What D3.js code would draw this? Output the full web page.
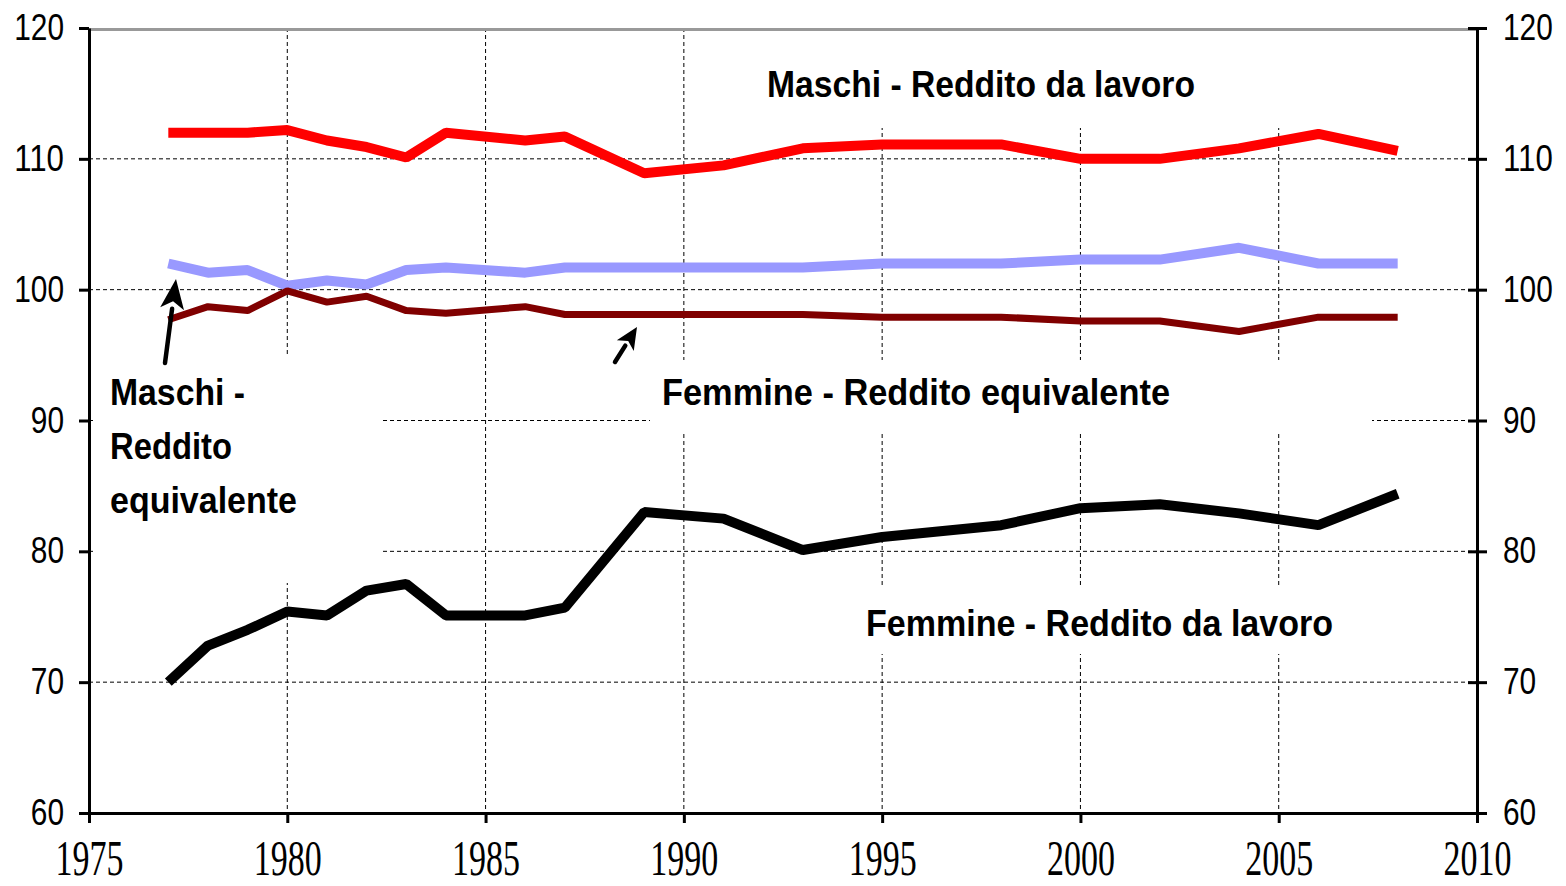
<!DOCTYPE html>
<html>
<head>
<meta charset="utf-8">
<script src="https://cdn.jsdelivr.net/npm/d3@7"></script>
<style>
  html, body { margin: 0; padding: 0; background: #fff; }
  svg { display: block; }
</style>
</head>
<body>
<svg id="chart" width="1566" height="886"></svg>
<script>
// ---------- data ----------

const years = [1977, 1978, 1979, 1980, 1981, 1982, 1983, 1984, 1986, 1987,
  1989, 1991, 1993, 1995, 1998, 2000, 2002, 2004, 2006, 2008];

// Maschi - Reddito da lavoro
const maschiLavoro = [112, 112, 112, 112.2, 111.4, 110.9, 110.1, 112, 111.4, 111.7,
  108.9, 109.5, 110.8, 111.1, 111.1, 110, 110, 110.8, 111.9, 110.6];

// Maschi - Reddito equivalente
const maschiEquiv = [102, 101.3, 101.5, 100.3, 100.7, 100.4, 101.5, 101.7, 101.3, 101.7,
  101.7, 101.7, 101.7, 102, 102, 102.3, 102.3, 103.2, 102, 102];

// Femmine - Reddito equivalente
const femmineEquiv = [97.7, 98.7, 98.4, 99.9, 99.05, 99.5, 98.4, 98.2, 98.7, 98.1,
  98.1, 98.1, 98.1, 97.9, 97.9, 97.6, 97.6, 96.8, 97.9, 97.9];

// Femmine - Reddito da lavoro
const femmineLavoro = [70, 72.8, 74, 75.4, 75.1, 77, 77.5, 75.1, 75.1, 75.7,
  83, 82.5, 80.1, 81.1, 82, 83.3, 83.6, 82.9, 82, 84.4];

const xTicks = [1975, 1980, 1985, 1990, 1995, 2000, 2005, 2010];
const yTicks = [60, 70, 80, 90, 100, 110, 120];

// ---------- scales ----------

const svg = d3.select("#chart");
const plotL = 89, plotR = 1477, plotT = 28, plotB = 813;

const x = d3.scaleLinear().domain([1975, 2010]).range([plotL, plotR]);
const y = d3.scaleLinear().domain([60, 120]).range([plotB, plotT]);

// ---------- grid ----------

const grid = svg.append("g");
grid.selectAll("line.h")
  .data(yTicks.filter((v) => v > 60 && v < 120))
  .join("line")
  .attr("class", "h")
  .attr("x1", plotL).attr("x2", plotR)
  .attr("y1", (d) => y(d)).attr("y2", (d) => y(d))
  .attr("stroke", "#000").attr("stroke-width", 1)
  .attr("stroke-dasharray", "4,3");
grid.selectAll("line.v")
  .data(xTicks.filter((v) => v > 1975 && v < 2010))
  .join("line")
  .attr("class", "v")
  .attr("x1", (d) => x(d)).attr("x2", (d) => x(d))
  .attr("y1", plotT).attr("y2", plotB)
  .attr("stroke", "#000").attr("stroke-width", 1)
  .attr("stroke-dasharray", "4,3");

// white label backgrounds hide the grid behind the labels
const boxes = [
  [755, 31, 545, 97],
  [95, 357, 285, 226],
  [650, 360, 722, 72],
  [855, 588, 490, 66],
];
svg.append("g").selectAll("rect")
  .data(boxes)
  .join("rect")
  .attr("x", (d) => d[0]).attr("y", (d) => d[1])
  .attr("width", (d) => d[2]).attr("height", (d) => d[3])
  .attr("fill", "#fff");

// ---------- series ----------

const series = [
  { values: maschiLavoro, color: "#ff0000", width: 10 },
  { values: maschiEquiv, color: "#9999ff", width: 10 },
  { values: femmineEquiv, color: "#800000", width: 7 },
  { values: femmineLavoro, color: "#000000", width: 10 },
];

const line = d3.line()
  .x((d) => x(d[0]))
  .y((d) => y(d[1]));

svg.append("g").selectAll("path")
  .data(series)
  .join("path")
  .attr("d", (s) => line(years.map((yr, i) => [yr, s.values[i]])))
  .attr("fill", "none")
  .attr("stroke", (s) => s.color)
  .attr("stroke-width", (s) => s.width)
  .attr("stroke-linejoin", "bevel")
  .attr("stroke-linecap", "butt");

// ---------- labels ----------

const labelFont = "'Liberation Sans Narrow', 'Liberation Sans', Arial, sans-serif";
const labels = [
  { text: "Maschi - Reddito da lavoro", x: 767, y: 97, w: 428 },
  { text: "Femmine - Reddito equivalente", x: 662, y: 405, w: 508 },
  { text: "Femmine - Reddito da lavoro", x: 866, y: 636, w: 467 },
  { text: "Maschi -", x: 110, y: 405, w: 135 },
  { text: "Reddito", x: 110, y: 459, w: 122 },
  { text: "equivalente", x: 110, y: 513, w: 187 },
];
svg.append("g").selectAll("text")
  .data(labels)
  .join("text")
  .attr("x", (d) => d.x).attr("y", (d) => d.y)
  .attr("textLength", (d) => d.w)
  .attr("lengthAdjust", "spacingAndGlyphs")
  .attr("font-family", labelFont)
  .attr("font-weight", "bold")
  .attr("font-size", 37)
  .text((d) => d.text);

// ---------- arrows ----------

const arrows = [
  { x1: 165, y1: 363, x2: 176, y2: 279, head: 30, half: 12, w: 4.5 },
  { x1: 615, y1: 362, x2: 637, y2: 327, head: 22, half: 10, w: 4.5 },
];
const ag = svg.append("g");
arrows.forEach((a) => {
  const ang = Math.atan2(a.y2 - a.y1, a.x2 - a.x1);
  const bx = a.x2 - a.head * Math.cos(ang);
  const by = a.y2 - a.head * Math.sin(ang);
  ag.append("line")
    .attr("x1", a.x1).attr("y1", a.y1).attr("x2", bx).attr("y2", by)
    .attr("stroke", "#000").attr("stroke-width", a.w)
    .attr("stroke-linecap", "round");
  const px = -Math.sin(ang), py = Math.cos(ang);
  ag.append("path")
    .attr("d", d3.line()([
      [a.x2, a.y2],
      [bx + px * a.half, by + py * a.half],
      [bx + 0.25 * a.head * Math.cos(ang), by + 0.25 * a.head * Math.sin(ang)],
      [bx - px * a.half, by - py * a.half],
    ]) + "Z")
    .attr("fill", "#000");
});

// ---------- axes ----------

// top border (grey)
svg.append("line")
  .attr("x1", plotL).attr("x2", plotR).attr("y1", plotT + 1.5).attr("y2", plotT + 1.5)
  .attr("stroke", "#999").attr("stroke-width", 3);

const yFont = "'Liberation Sans', Arial, sans-serif";

const leftAxis = svg.append("g")
  .attr("transform", `translate(${plotL},0)`)
  .call(d3.axisLeft(y).tickValues(yTicks).tickSize(10).tickSizeOuter(0).tickFormat(d3.format("d")));
leftAxis.select(".domain").attr("stroke-width", 3);
leftAxis.selectAll(".tick line").attr("stroke-width", 3);
leftAxis.selectAll(".tick text")
  .attr("x", -25)
  .attr("font-family", yFont)
  .attr("font-size", 36)
  .attr("fill", "#000")
  .attr("textLength", (d) => String(d).length * 16.6)
  .attr("lengthAdjust", "spacingAndGlyphs");

const rightAxis = svg.append("g")
  .attr("transform", `translate(${plotR},0)`)
  .call(d3.axisRight(y).tickValues(yTicks).tickSize(10).tickSizeOuter(0).tickFormat(d3.format("d")));
rightAxis.select(".domain").attr("stroke-width", 3);
rightAxis.selectAll(".tick line").attr("x1", -9).attr("stroke-width", 3);
rightAxis.selectAll(".tick text")
  .attr("x", 26)
  .attr("font-family", yFont)
  .attr("font-size", 36)
  .attr("fill", "#000")
  .attr("textLength", (d) => String(d).length * 16.6)
  .attr("lengthAdjust", "spacingAndGlyphs");

const bottomAxis = svg.append("g")
  .attr("transform", `translate(0,${plotB})`)
  .call(d3.axisBottom(x).tickValues(xTicks).tickSize(10).tickSizeOuter(0).tickFormat(d3.format("d")));
bottomAxis.select(".domain").attr("stroke-width", 3);
bottomAxis.selectAll(".tick line").attr("stroke-width", 3);
bottomAxis.selectAll(".tick text")
  .attr("y", 62)
  .attr("dy", 0)
  .attr("font-family", "'Liberation Serif', 'Times New Roman', serif")
  .attr("font-size", 50)
  .attr("fill", "#000")
  .attr("textLength", 68)
  .attr("lengthAdjust", "spacingAndGlyphs");
</script>
</body>
</html>
